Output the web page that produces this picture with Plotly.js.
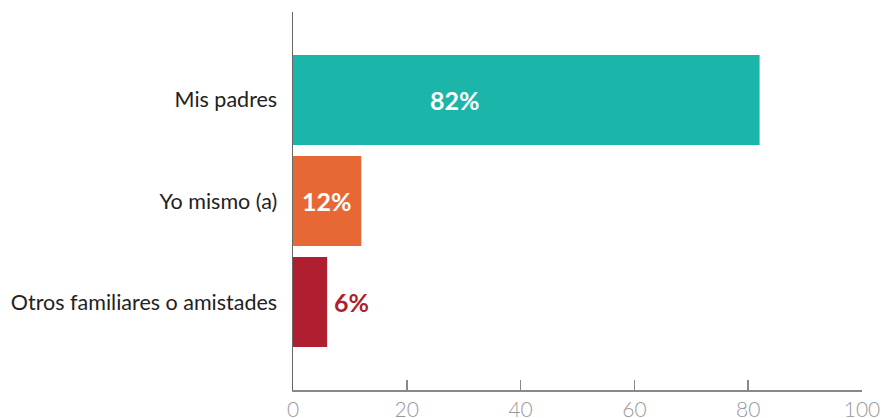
<!DOCTYPE html>
<html>
<head>
<meta charset="utf-8">
<script src="https://cdn.plot.ly/plotly-3.0.1.min.js"></script>
<style>html,body{margin:0;padding:0;background:#fff;}#chart{width:884px;height:418px;}</style>
</head>
<body>
<div id="chart"></div>
<script>
const categories = ["Mis padres", "Yo mismo (a)", "Otros familiares o amistades"];
const values = [82, 12, 6];
const labels = ["82%", "12%", "6%"];
const colors = ["#1cb5aa", "#e86835", "#b01f2f"];
const tickVals = [0, 20, 40, 60, 80, 100];

const trace = {
  type: "bar",
  orientation: "h",
  y: categories,
  x: values,
  width: 0.89,
  marker: {color: colors, line: {width: 0}},
  hoverinfo: "none"
};

const annotations = [
  {x: values[0] / 2, y: categories[0], text: "<b>" + labels[0] + "</b>", showarrow: false, xshift: -71, font: {family: "Lato", size: 25, color: "#ffffff"}},
  {x: values[1] / 2, y: categories[1], text: "<b>" + labels[1] + "</b>", showarrow: false, font: {family: "Lato", size: 25, color: "#ffffff"}},
  {x: values[2], y: categories[2], text: "<b>" + labels[2] + "</b>", showarrow: false, xanchor: "left", xshift: 5, font: {family: "Lato", size: 25, color: colors[2]}}
];

const layout = {
  width: 884, height: 418,
  margin: {l: 293, r: 22, t: 12, b: 28, pad: 0},
  paper_bgcolor: "#fff", plot_bgcolor: "#fff",
  showlegend: false,
  xaxis: {
    range: [0, 100], tickvals: tickVals, ticktext: tickVals.map(String),
    showgrid: false, zeroline: false,
    showline: true, linecolor: "#888", linewidth: 1.5,
    ticks: "inside", ticklen: 10, tickcolor: "#888", tickwidth: 1.5,
    tickfont: {family: "Lato", size: 21, color: "#999", weight: 300},
    fixedrange: true
  },
  yaxis: {
    type: "category", autorange: false, range: [2.87, -0.87],
    showgrid: false, zeroline: false,
    showline: true, linecolor: "#666", linewidth: 1.5,
    ticks: "", ticklabelstandoff: 10,
    tickfont: {family: "Lato", size: 21.5, color: "#222"},
    fixedrange: true
  },
  annotations: annotations
};

Plotly.newPlot("chart", [trace], layout, {displayModeBar: false, staticPlot: true});
</script>
</body>
</html>
